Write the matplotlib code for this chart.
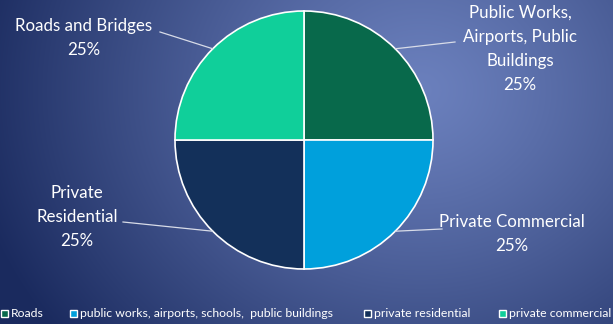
import numpy as np
import matplotlib
matplotlib.use("Agg")
import matplotlib.pyplot as plt
from matplotlib.patches import Rectangle

# ── Data ──────────────────────────────────────────────────────────────
shares = [25, 25, 25, 25]
slice_colors = ["#08694b", "#00a0dc", "#13305a", "#10cf9a"]
slice_labels = ["Public Works,\nAirports, Public\nBuildings",
                "Private Commercial",
                "Private\nResidential",
                "Roads and Bridges"]
legend_labels = ["Roads", "public works, airports, schools,  public buildings",
                 "private residential", "private commercial"]

plt.rcParams["font.family"] = ["Lato", "DejaVu Sans"]

W, H = 613, 324
fig = plt.figure(figsize=(W / 100, H / 100), dpi=100)
ax = fig.add_axes([0, 0, 1, 1])

# ── Background radial gradient ────────────────────────────────────────
yy, xx = np.mgrid[0:H, 0:W]
d = np.sqrt(((xx - 420) / 460.0) ** 2 + ((yy - 90) / 400.0) ** 2)
t = np.clip(d, 0, 1) ** 1.2
c0 = np.array([0x6b, 0x80, 0xbd]) / 255
c1 = np.array([0x1a, 0x2a, 0x5e]) / 255
img = c0[None, None, :] * (1 - t[..., None]) + c1[None, None, :] * t[..., None]
ax.imshow(img, extent=(0, W, 0, H), origin="upper", zorder=0, aspect="auto")

# ── Pie ───────────────────────────────────────────────────────────────
cx, cy, r = 304, H - 140, 129
wedges, _ = ax.pie(shares, colors=slice_colors, startangle=90, counterclock=False,
                   center=(cx, cy), radius=r,
                   wedgeprops=dict(edgecolor="white", linewidth=1.2))
for w in wedges:
    w.set_zorder(2)

# label text positions (pixels, top-origin) and leader attach points
label_pos = [(520, 49), (512, 234), (77, 217), (84, 38)]
text_anchor = [(455, 42), (442, 229), (123, 222), (160, 32)]
leader_ang = [45, -45, 225, 135]
pct = ["25%"] * 4
for lab, p, (tx, ty), (ax_, ay_), ang in zip(slice_labels, pct, label_pos,
                                              text_anchor, leader_ang):
    ax.text(tx, H - ty, lab + "\n" + p, color="white", fontsize=12.2,
            ha="center", va="center", linespacing=1.62, zorder=3)
    px = cx + r * np.cos(np.radians(ang))
    py = cy + r * np.sin(np.radians(ang))
    ax.plot([ax_, px], [H - ay_, py], color="#d8dce8", lw=0.9, zorder=3)

# ── Legend ────────────────────────────────────────────────────────────
leg_x = [1, 70, 364, 499]
for x, lab, col in zip(leg_x, legend_labels, slice_colors):
    ax.add_patch(Rectangle((x, H - 317), 7, 7, facecolor=col,
                           edgecolor="white", lw=1, zorder=3))
    ax.text(x + 10, H - 313.5, lab, color="white", fontsize=8.8,
            ha="left", va="center", zorder=3)

ax.set_xlim(0, W)
ax.set_ylim(0, H)
ax.set_aspect("auto")
ax.axis("off")

fig.savefig("out.png", dpi=100)
